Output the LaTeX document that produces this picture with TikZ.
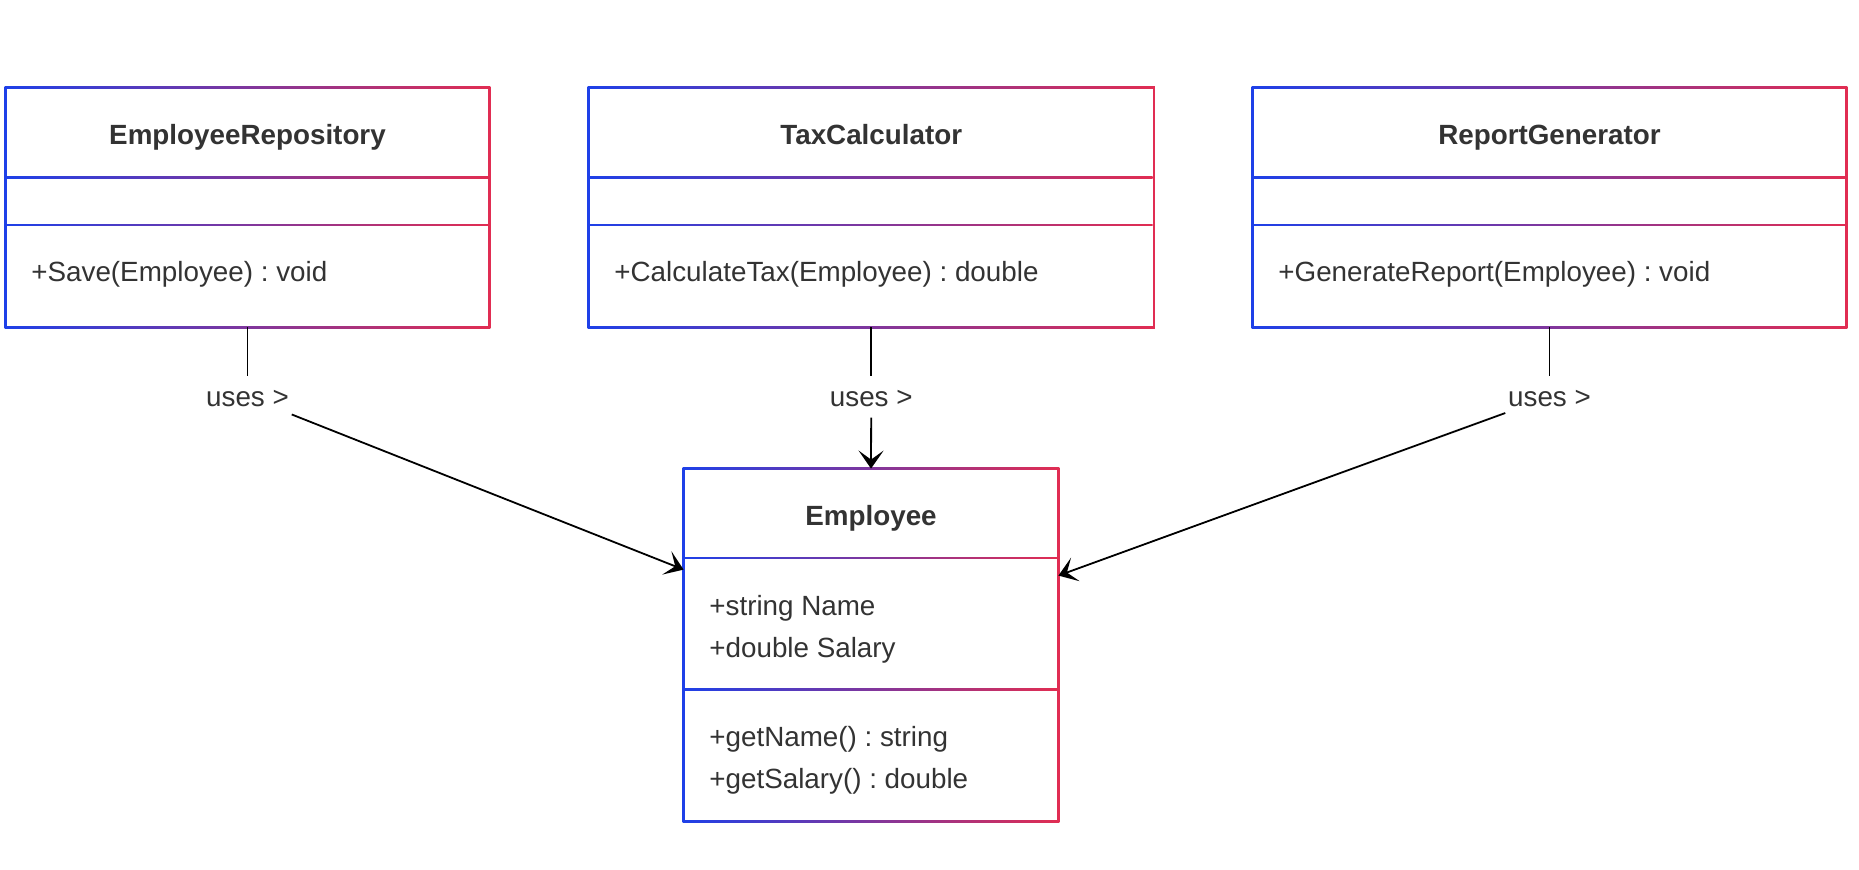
\documentclass[tikz,border=0pt]{standalone}
\usepackage{fontspec}
\setmainfont{Liberation Sans}
\usetikzlibrary{arrows.meta,fit,calc}
\definecolor{cblue}{RGB}{30,64,232}
\definecolor{cred}{RGB}{225,45,82}
\definecolor{tgray}{RGB}{51,51,51}
\newcommand\dfs{\fontsize{13.9pt}{16.7pt}\selectfont\frenchspacing}
\newcommand\umlframe[1]{%
  \shade[gradfill] ([shift={(-1,-1)}]#1.north west) rectangle ([shift={(1,1)}]#1.south east);
  \fill[white] ([shift={(1,1)}]#1.north west) rectangle ([shift={(-1,-1)}]#1.south east);}
\newcommand\umlsep[3]{%
  \shade[gradfill] (#1,#3-0.75) rectangle (#2,#3+0.75);}
\tikzset{
  gradfill/.style={left color=cblue, right color=cred},
  classarea/.style={inner sep=0pt, draw=none},
  ctitle/.style={font=\dfs\bfseries, text=tgray, inner sep=0pt, text height=10pt, text depth=0pt},
  cmember/.style={font=\dfs, text=tgray, inner sep=0pt, anchor=west, text height=10pt, text depth=0pt},
  uselabel/.style={font=\dfs, text=tgray, inner xsep=1.25pt, inner ysep=5.15pt, text height=10pt, text depth=0pt},
  conn/.style={line width=0.9pt, black},
  arr/.style={conn, -{Stealth[length=9pt,width=12.5pt,inset=4.5pt]}},
}
\begin{document}
\frenchspacing
\begin{tikzpicture}[x=0.5pt,y=-0.5pt]
\fill[white] (0,0) rectangle (1859,870);
\useasboundingbox (0,0) rectangle (1859,870);
% class areas
\node[classarea, fit={(6,88) (489,327)}] (repo) {};
\node[classarea, fit={(589,88) (1153.5,327)}] (tax) {};
\node[classarea, fit={(1253,88) (1846,327)}] (rep) {};
\node[classarea, fit={(684,469) (1058,821)}] (emp) {};
% frames
\umlframe{repo}
\umlframe{tax}
\umlframe{rep}
\umlframe{emp}
% separators
\umlsep{7}{488}{177.5}
\umlsep{7}{488}{225}
\umlsep{590}{1152.5}{177.5}
\umlsep{590}{1152.5}{225}
\umlsep{1254}{1845}{177.5}
\umlsep{1254}{1845}{225}
\umlsep{685}{1057}{558}
\umlsep{685}{1057}{689.5}
% texts
\node[ctitle] (repotitle) at (247.5,135) {EmployeeRepository};
\node[ctitle] (taxtitle) at (871.25,135) {TaxCalculator};
\node[ctitle] (reptitle) at (1549.5,135) {ReportGenerator};
\node[ctitle] (emptitle) at (871,515.3) {Employee};
\node[cmember] (repom) at (31,272) {+Save(Employee) : void};
\node[cmember] (taxm) at (614,272) {+CalculateTax(Employee) : double};
\node[cmember] (repm) at (1278,272) {+GenerateReport(Employee) : void};
\node[cmember] (empa1) at (709,606) {+string Name};
\node[cmember] (empa2) at (709,647.5) {+double Salary};
\node[cmember] (empm1) at (709,737) {+getName() : string};
\node[cmember] (empm2) at (709,778.5) {+getSalary() : double};
% labels
\node[uselabel] (l1) at (247.5,397) {uses >};
\node[uselabel] (l2) at (871.25,397) {uses >};
\node[uselabel] (l3) at (1549.5,397) {uses >};
\coordinate (ta) at ($(emp.north west)+(0,101)$);
\coordinate (tc) at ($(emp.north east)+(0,107)$);
% connectors
\draw[conn] (repo.south) -- (l1);
\draw[arr] (l1) -- (ta);
\draw[conn] (tax.south) -- (l2);
\draw[arr] (l2) -- (emp.north);
\draw[conn] (rep.south) -- (l3);
\draw[arr] (l3) -- (tc);
\end{tikzpicture}
\end{document}
